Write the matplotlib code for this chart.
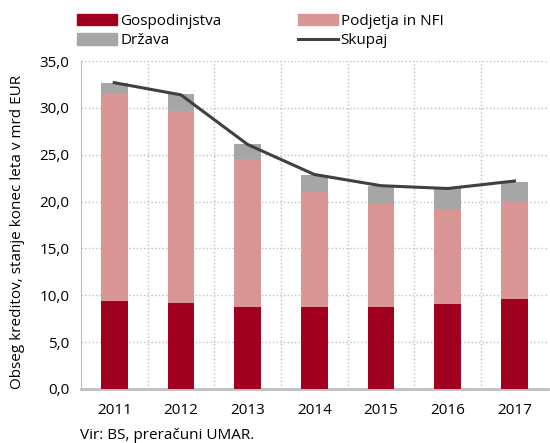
import numpy as np
import matplotlib.pyplot as plt
from matplotlib.patches import Patch
from matplotlib.lines import Line2D

plt.rcParams['font.family'] = ['Open Sans', 'DejaVu Sans']

years = ['2011', '2012', '2013', '2014', '2015', '2016', '2017']
gospodinjstva = [9.4, 9.2, 8.8, 8.7, 8.8, 9.1, 9.6]
podjetja = [22.05, 20.5, 15.7, 12.3, 10.9, 10.15, 10.5]
drzava = [1.25, 1.8, 1.6, 1.8, 1.95, 2.25, 2.0]
skupaj = [32.7, 31.4, 26.1, 22.9, 21.7, 21.4, 22.2]

c_gos = '#A0001E'
c_pod = '#DA9595'
c_drz = '#A6A6A6'
c_sk = '#404040'

fig = plt.figure(figsize=(5.5, 4.43), dpi=100)
ax = fig.add_axes([0.147, 0.122, 0.849, 0.74])

x = np.arange(len(years))
w = 0.4
g = np.array(gospodinjstva)
p = np.array(podjetja)
ax.bar(x, g, w, color=c_gos, zorder=3)
ax.bar(x, p, w, bottom=g, color=c_pod, zorder=3)
ax.bar(x, drzava, w, bottom=g + p, color=c_drz, zorder=3)
ax.plot(x, skupaj, color=c_sk, lw=2.2, zorder=4)

ax.set_ylim(0, 35)
ax.set_xlim(-0.5, len(years) - 0.5)
ax.set_yticks(np.arange(0, 36, 5))
ax.set_yticklabels([f'{v:.1f}'.replace('.', ',') for v in np.arange(0, 36, 5)])
ax.set_xticks(x)
ax.set_xticklabels(years)
ax.set_xticks(np.arange(0.5, len(years) - 0.5, 1), minor=True)
ax.tick_params(axis='both', which='both', length=0, labelsize=11)
ax.tick_params(axis='x', pad=10)
ax.tick_params(axis='y', pad=8)
ax.grid(axis='y', which='major', color='#BFBFBF', ls=':', lw=1, zorder=0)
ax.grid(axis='x', which='minor', color='#BFBFBF', ls=':', lw=1, zorder=0)
ax.grid(axis='x', which='major', visible=False)

for s in ['top', 'right']:
    ax.spines[s].set_visible(False)
ax.spines['left'].set_color('#BFBFBF')
ax.spines['bottom'].set_color('#BFBFBF')
ax.spines['bottom'].set_linewidth(2)

ax.set_ylabel('Obseg kreditov, stanje konec leta v mrd EUR', fontsize=11)
ax.yaxis.set_label_coords(-0.12, 0.48)

handles = [Patch(color=c_gos), Patch(color=c_pod), Patch(color=c_drz),
           Line2D([], [], color=c_sk, lw=2.2)]
labels = ['Gospodinjstva', 'Podjetja in NFI', 'Država', 'Skupaj']
order = [0, 2, 1, 3]
fig.legend([handles[i] for i in order], [labels[i] for i in order], ncol=2,
           loc='upper left', bbox_to_anchor=(0.124, 0.99), frameon=False,
           fontsize=11, handlelength=2.6, handleheight=0.8, handletextpad=0.2,
           columnspacing=5.0, labelspacing=0.3, borderaxespad=0.2)

fig.text(0.145, 0.0, 'Vir: BS, preračuni UMAR.', fontsize=11, ha='left', va='bottom')

fig.savefig('out.png', dpi=100)
